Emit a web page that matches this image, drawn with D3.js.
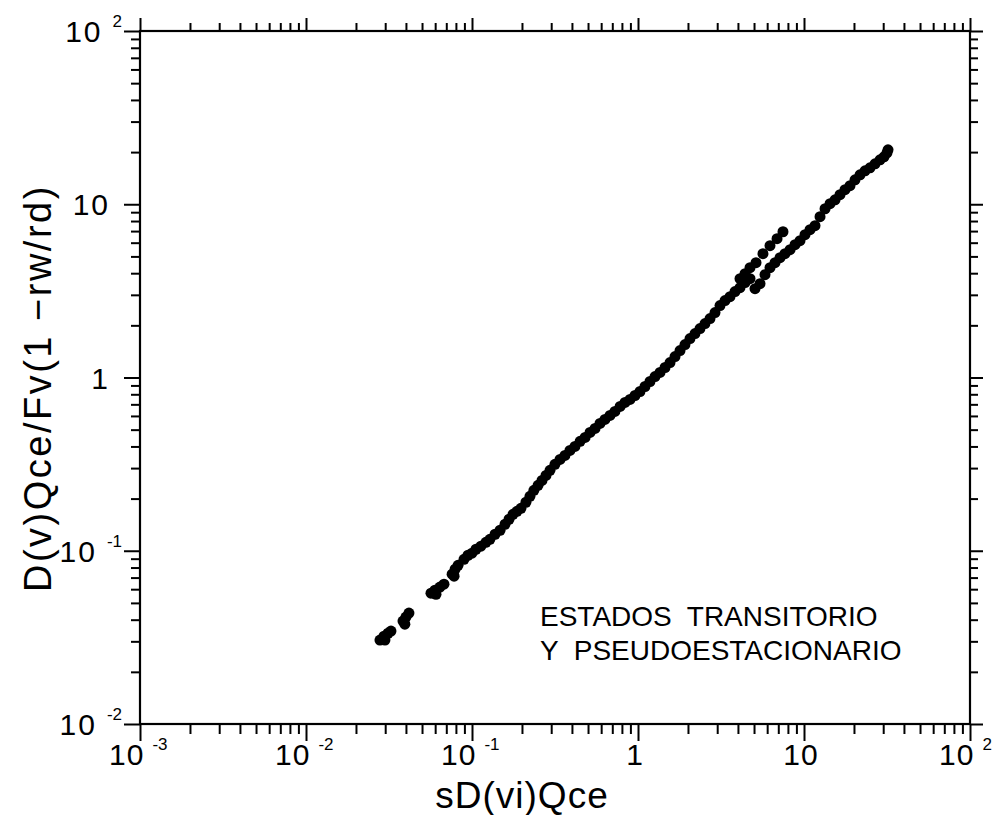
<!DOCTYPE html>
<html>
<head>
<meta charset="utf-8">
<script src="https://cdn.jsdelivr.net/npm/d3@7"></script>
<style>
  body { margin: 0; background: #fff; }
  text { font-family: "Liberation Sans", Arial, sans-serif; fill: #000; }
</style>
</head>
<body>
<div id="chart"></div>
<script>
// tick values and labels
const xDecades = [1e-3, 1e-2, 1e-1, 1, 10, 100]
const xTickText = [["10", "-3"], ["10", "-2"], ["10", "-1"], ["1", ""], ["10", ""], ["10", "2"]]
const yDecades = [1e-2, 1e-1, 1, 10, 100]
const yTickText = [["10", "-2"], ["10", "-1"], ["1", ""], ["10", ""], ["10", "2"]]

// measured points, sD(vi)Qce vs D(v)Qce/Fv(1-rw/rd)
const sx = [
  0.0279, 0.0295, 0.0312, 0.0299, 0.0325,
  0.0384, 0.0400, 0.0417, 0.0394,
  0.0566, 0.0598, 0.0641, 0.0678, 0.0607,
  0.0759, 0.0791, 0.0824, 0.0780,
  0.0895, 0.0946, 0.100, 0.1057, 0.1132, 0.1213, 0.1282, 0.1377, 0.1476, 0.1581,
  0.1671, 0.1766, 0.1866, 0.1972, 0.2113, 0.2234, 0.236, 0.250, 0.264, 0.279,
  0.295, 0.316, 0.339, 0.363, 0.389, 0.417, 0.448, 0.480, 0.514, 0.551,
  0.590, 0.632, 0.678, 0.726, 0.780, 0.835, 0.895, 0.959, 1.028, 1.102,
  1.181, 1.266, 1.357, 1.455, 1.559, 1.671, 1.791, 1.919, 2.057, 2.205,
  2.363, 2.533, 2.715, 2.910, 3.119, 3.343, 3.583, 3.840, 4.116, 4.412, 4.729,
  4.116, 4.412, 4.729, 5.14, 5.66, 6.24, 6.88, 7.47,
  5.069, 5.433, 5.823, 6.24, 6.69, 7.17, 7.68, 8.24, 8.83, 9.46, 10.14,
  10.87, 11.65, 12.49, 13.39, 14.35, 15.38, 16.48, 17.66, 18.93, 20.29, 21.75,
  23.31, 24.98, 26.78, 28.70, 30.34, 31.62, 32.07
]
const sy = [
  0.0305, 0.0321, 0.0334, 0.0305, 0.0344,
  0.0393, 0.0414, 0.0437, 0.0377,
  0.0569, 0.0592, 0.0617, 0.0641, 0.0561,
  0.0732, 0.0782, 0.0824, 0.0713,
  0.0893, 0.0942, 0.0968, 0.1020, 0.1062, 0.1119, 0.1164, 0.1245, 0.1313, 0.1422,
  0.1520, 0.1622, 0.1690, 0.1758, 0.1905, 0.2061, 0.2234, 0.2385, 0.2547, 0.2723,
  0.2911, 0.3153, 0.3368, 0.3551, 0.3796, 0.400, 0.4279, 0.4511, 0.4820, 0.5082,
  0.5433, 0.5728, 0.6039, 0.6368, 0.6808, 0.7178, 0.7468, 0.7873, 0.8301, 0.8874,
  0.9484, 1.013, 1.069, 1.142, 1.220, 1.321, 1.431, 1.549, 1.678, 1.793,
  1.916, 2.047, 2.188, 2.370, 2.600, 2.778, 2.929, 3.131, 3.301, 3.529, 3.720,
  3.720, 3.975, 4.305, 4.601, 5.186, 5.765, 6.325, 6.939,
  3.258, 3.481, 3.923, 4.305, 4.601, 4.918, 5.186, 5.466, 5.844, 6.162, 6.671,
  7.129, 7.518, 8.472, 9.421, 10.07, 10.61, 11.35, 12.13, 12.79, 13.84, 14.79,
  15.60, 16.23, 17.11, 18.04, 18.79, 19.81, 20.61
]

const annotation = ["ESTADOS  TRANSITORIO", "Y  PSEUDOESTACIONARIO"]

// canvas
const width = 995,
      height = 815,
      mLeft = 140, mRight = 970, mTop = 31, mBottom = 724

let svg = d3.select('#chart')
  .append('svg')
  .attr('width', width)
  .attr('height', height)
  .style('background', '#fff')

let x = d3.scaleLog().domain([1e-3, 1e2]).range([mLeft, mRight])
let y = d3.scaleLog().domain([1e-2, 1e2]).range([mBottom, mTop])

// 2..9 inside every decade
let minors = (decades) => {
  let out = []
  decades.slice(0, -1).forEach(d => {
    for (let k = 2; k < 10; k++) out.push(k * d)
  })
  return out
}
const xMinor = minors(xDecades)
const yMinor = minors(yDecades)

let axisGroup = (gen, transform) => {
  let g = svg.append('g').attr('transform', transform).call(gen)
  g.select('.domain').remove()
  g.selectAll('line').attr('stroke', '#000').attr('stroke-width', 2)
  return g
}

// bottom
axisGroup(d3.axisBottom(x).tickValues(xMinor).tickSize(10).tickFormat(''), `translate(0,${mBottom})`)
axisGroup(d3.axisBottom(x).tickValues(xDecades).tickSize(17).tickFormat(''), `translate(0,${mBottom})`)
// top
axisGroup(d3.axisTop(x).tickValues(xMinor).tickSize(8).tickFormat(''), `translate(0,${mTop})`)
axisGroup(d3.axisTop(x).tickValues(xDecades).tickSize(13).tickFormat(''), `translate(0,${mTop})`)
// left
axisGroup(d3.axisLeft(y).tickValues(yMinor).tickSize(9).tickFormat(''), `translate(${mLeft},0)`)
axisGroup(d3.axisLeft(y).tickValues(yDecades).tickSize(16).tickFormat(''), `translate(${mLeft},0)`)
// right
axisGroup(d3.axisRight(y).tickValues(yMinor).tickSize(8).tickFormat(''), `translate(${mRight},0)`)
axisGroup(d3.axisRight(y).tickValues(yDecades).tickSize(13).tickFormat(''), `translate(${mRight},0)`)

// frame
svg.append('rect')
  .attr('x', mLeft).attr('y', mTop)
  .attr('width', mRight - mLeft).attr('height', mBottom - mTop)
  .attr('fill', 'none')
  .attr('stroke', '#000')
  .attr('stroke-width', 2.2)

// x tick labels: powers start left of the tick, plain ones sit under it
let xl = svg.append('g').selectAll('text')
  .data(xDecades)
  .enter()
  .append('text')
  .attr('x', (d, i) => xTickText[i][1] ? x(d) - 31 : x(d) - 3)
  .attr('y', mBottom + 41)
  .attr('text-anchor', (d, i) => xTickText[i][1] ? 'start' : 'middle')
  .style('font-size', '30px')
  .style('letter-spacing', '1px')
xl.append('tspan').text((d, i) => xTickText[i][0])
xl.append('tspan')
  .attr('dx', 8).attr('dy', -15)
  .style('font-size', '17px')
  .style('letter-spacing', '0px')
  .text((d, i) => xTickText[i][1])

// y tick labels
let yl = svg.append('g').selectAll('text')
  .data(yDecades)
  .enter()
  .append('text')
  .attr('x', (d, i) => yTickText[i][1] ? mLeft - 18 : mLeft - 30)
  .attr('y', d => y(d) + 11)
  .attr('text-anchor', 'end')
  .style('font-size', '30px')
  .style('letter-spacing', '2px')
yl.append('tspan').text((d, i) => yTickText[i][0])
yl.append('tspan')
  .attr('dx', 10).attr('dy', -15)
  .style('font-size', '17px')
  .style('letter-spacing', '0px')
  .text((d, i) => yTickText[i][1])

// axis titles
svg.append('text')
  .attr('x', 522)
  .attr('y', 808)
  .attr('text-anchor', 'middle')
  .style('font-size', '37px')
  .style('letter-spacing', '1px')
  .text('sD(vi)Qce')

svg.append('text')
  .attr('transform', 'translate(51,592) rotate(-90)')
  .attr('text-anchor', 'start')
  .style('font-size', '38px')
  .style('letter-spacing', '2.5px')
  .text('D(v)Qce/Fv(1 \u2212rw/rd)')

// points
svg.append('g')
  .selectAll('circle')
  .data(sx)
  .enter()
  .append('circle')
  .attr('cx', d => x(d))
  .attr('cy', (d, i) => y(sy[i]))
  .attr('r', 5.5)
  .attr('fill', '#000')

// note
svg.append('g').selectAll('text')
  .data(annotation)
  .enter()
  .append('text')
  .attr('x', 540)
  .attr('y', (d, i) => 626 + i * 34)
  .style('font-size', '28px')
  .style('white-space', 'pre')
  .text(d => d)
</script>
</body>
</html>
